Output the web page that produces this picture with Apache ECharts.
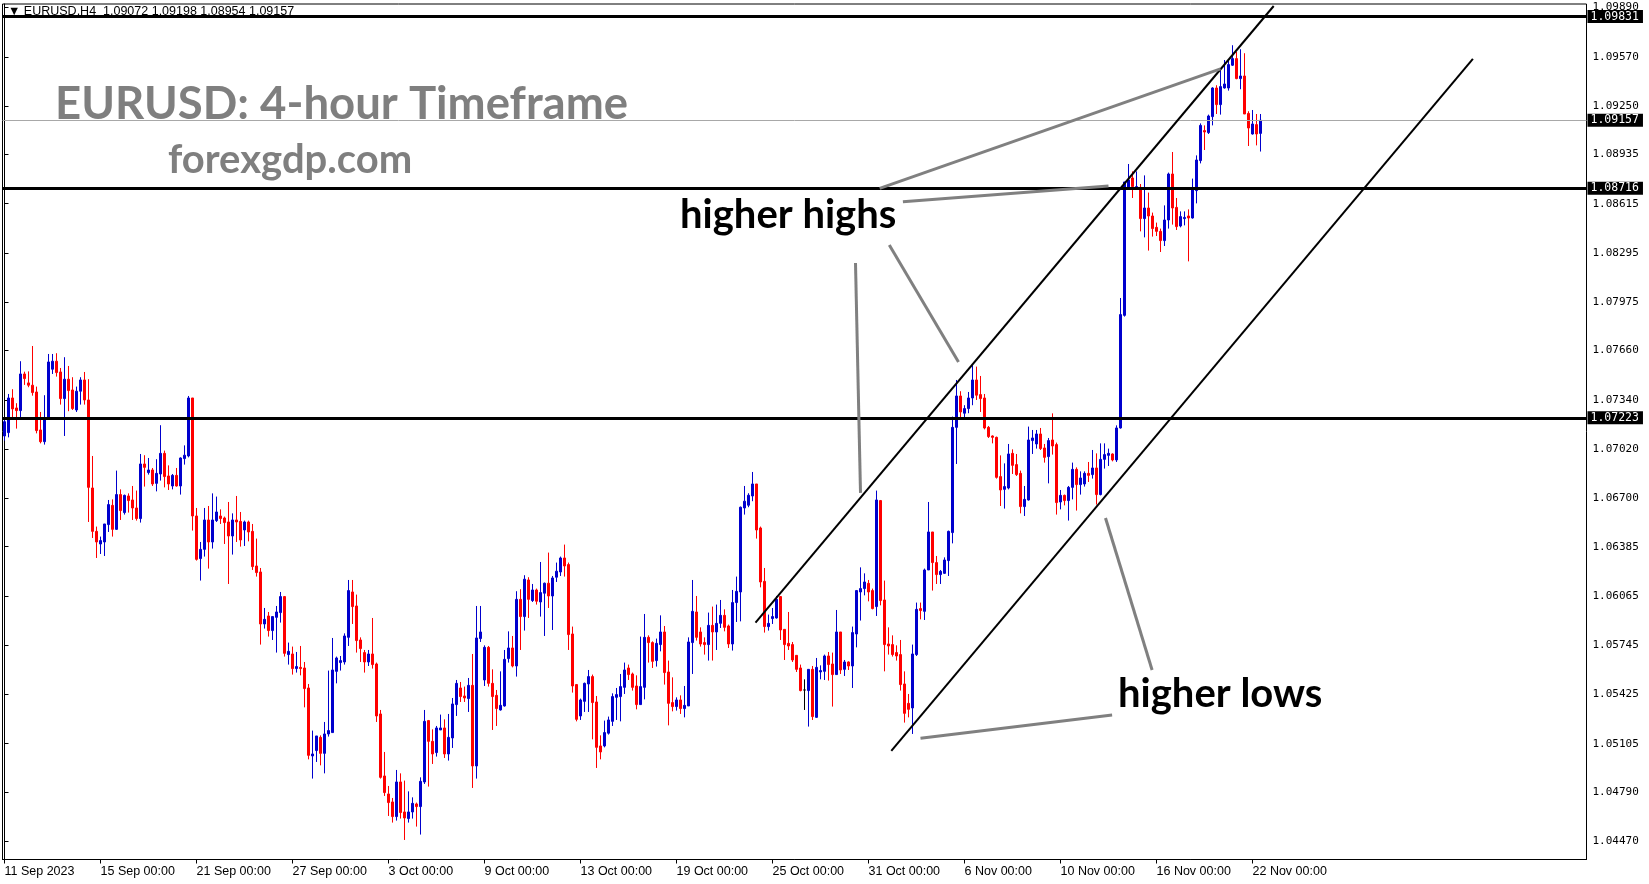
<!DOCTYPE html>
<html><head><meta charset="utf-8">
<script src="https://cdn.jsdelivr.net/npm/echarts@6/dist/echarts.min.js"></script>
<style>html,body{margin:0;padding:0;background:#fff}#chart{width:1649px;height:884px}</style>
</head><body><div id="chart"></div>
<script>
// ---- tick labels ----
const xTickLabels = ["11 Sep 2023","15 Sep 00:00","21 Sep 00:00","27 Sep 00:00","3 Oct 00:00","9 Oct 00:00","13 Oct 00:00","19 Oct 00:00","25 Oct 00:00","31 Oct 00:00","6 Nov 00:00","10 Nov 00:00","16 Nov 00:00","22 Nov 00:00"];
const barsPerLabel = 24;
const slotCount = 396;
const yTickValues = [1.09890,1.09570,1.09250,1.08935,1.08615,1.08295,1.07975,1.07660,1.07340,1.07020,1.06700,1.06385,1.06065,1.05745,1.05425,1.05105,1.04790,1.04470];

// ---- H4 candles (open, close, low, high) ----
const open = [1.07105,1.07127,1.07352,1.07287,1.07270,1.07508,1.07450,1.07435,1.07391,1.07144,1.07068,1.07226,1.07539,1.07591,1.07521,1.07348,1.07474,1.07404,1.07274,1.07396,1.07469,1.07339,1.06767,1.06485,1.06403,1.06416,1.06529,1.06654,1.06498,1.06724,1.06607,1.06715,1.06689,1.06637,1.06568,1.06923,1.06867,1.06884,1.06797,1.06858,1.06992,1.06845,1.06780,1.06849,1.06780,1.06958,1.06975,1.07352,1.06585,1.06308,1.06368,1.06559,1.06416,1.06555,1.06585,1.06572,1.06546,1.06455,1.06559,1.06550,1.06494,1.06546,1.06485,1.06260,1.06221,1.05883,1.05935,1.05840,1.05926,1.05957,1.06061,1.05684,1.05688,1.05593,1.05601,1.05597,1.05467,1.05025,1.05060,1.05146,1.05042,1.05168,1.05177,1.05575,1.05632,1.05636,1.05796,1.06091,1.06000,1.05779,1.05697,1.05636,1.05688,1.05623,1.05298,1.04895,1.04778,1.04726,1.04631,1.04856,1.04661,1.04618,1.04661,1.04713,1.04696,1.04856,1.05255,1.05120,1.05047,1.05194,1.05207,1.05038,1.05142,1.05359,1.05467,1.05415,1.05398,1.05484,1.04960,1.05788,1.05519,1.05731,1.05497,1.05419,1.05324,1.05350,1.05658,1.05727,1.05610,1.06043,1.05931,1.06169,1.06035,1.06104,1.06026,1.06083,1.06148,1.06065,1.06187,1.06221,1.06312,1.06269,1.05818,1.05489,1.05285,1.05380,1.05493,1.05541,1.05376,1.05090,1.05090,1.05173,1.05250,1.05406,1.05411,1.05471,1.05597,1.05558,1.05480,1.05359,1.05471,1.05796,1.05762,1.05645,1.05749,1.05831,1.05571,1.05372,1.05346,1.05389,1.05333,1.05350,1.05762,1.05961,1.05831,1.05762,1.05749,1.05874,1.05831,1.05887,1.05939,1.05870,1.05753,1.06022,1.06091,1.06637,1.06655,1.06715,1.06793,1.06507,1.06160,1.05866,1.05918,1.05922,1.06061,1.05848,1.05757,1.05749,1.05679,1.05597,1.05454,1.05450,1.05588,1.05276,1.05571,1.05575,1.05675,1.05623,1.05554,1.05831,1.05588,1.05636,1.05610,1.05818,1.06091,1.06113,1.06147,1.06100,1.05996,1.06685,1.06039,1.05753,1.05749,1.05697,1.05684,1.05493,1.05367,1.05337,1.05684,1.05983,1.05965,1.06234,1.06481,1.06282,1.06204,1.06212,1.06295,1.06477,1.07161,1.07365,1.07253,1.07283,1.07352,1.07469,1.07374,1.07352,1.07161,1.07105,1.07096,1.06841,1.06758,1.06767,1.06992,1.06919,1.06862,1.06646,1.06689,1.07075,1.07053,1.07118,1.07027,1.06971,1.07079,1.07049,1.06676,1.06719,1.06685,1.06771,1.06888,1.06789,1.06793,1.06862,1.06854,1.06897,1.06724,1.06953,1.06979,1.06988,1.06949,1.07157,1.07889,1.08717,1.08782,1.08708,1.08721,1.08518,1.08587,1.08535,1.08461,1.08435,1.08375,1.08509,1.08808,1.08591,1.08470,1.08518,1.08535,1.08522,1.08700,1.08895,1.09090,1.09077,1.09181,1.09367,1.09259,1.09367,1.09367,1.09515,1.09558,1.09428,1.09445,1.09202,1.09068,1.09129,1.09072];
const close = [1.07198,1.07352,1.07281,1.07270,1.07508,1.07478,1.07435,1.07387,1.07140,1.07068,1.07218,1.07586,1.07591,1.07517,1.07348,1.07474,1.07400,1.07283,1.07396,1.07469,1.07339,1.06771,1.06485,1.06416,1.06425,1.06533,1.06659,1.06498,1.06724,1.06620,1.06719,1.06685,1.06637,1.06568,1.06923,1.06901,1.06884,1.06793,1.06862,1.06992,1.06841,1.06793,1.06849,1.06780,1.06962,1.06980,1.07352,1.06585,1.06303,1.06368,1.06559,1.06416,1.06559,1.06611,1.06568,1.06542,1.06455,1.06559,1.06546,1.06429,1.06546,1.06481,1.06256,1.06217,1.05883,1.05913,1.05840,1.05931,1.05961,1.06061,1.05692,1.05705,1.05593,1.05606,1.05593,1.05463,1.05029,1.05038,1.05155,1.05042,1.05168,1.05190,1.05584,1.05662,1.05645,1.05805,1.06100,1.05996,1.05775,1.05723,1.05636,1.05688,1.05619,1.05285,1.04886,1.04787,1.04722,1.04631,1.04856,1.04657,1.04622,1.04661,1.04717,1.04696,1.04860,1.05250,1.05120,1.05038,1.05207,1.05207,1.05038,1.05146,1.05363,1.05497,1.05411,1.05402,1.05484,1.04960,1.05792,1.05831,1.05731,1.05497,1.05411,1.05333,1.05354,1.05653,1.05727,1.05610,1.06043,1.05931,1.06174,1.06043,1.06104,1.06031,1.06087,1.06148,1.06065,1.06182,1.06226,1.06312,1.06260,1.05814,1.05480,1.05263,1.05389,1.05497,1.05541,1.05372,1.05081,1.05051,1.05177,1.05259,1.05411,1.05424,1.05476,1.05584,1.05554,1.05471,1.05359,1.05476,1.05796,1.05762,1.05640,1.05757,1.05831,1.05567,1.05367,1.05346,1.05389,1.05333,1.05354,1.05766,1.05965,1.05796,1.05753,1.05749,1.05874,1.05831,1.05887,1.05939,1.05861,1.05753,1.06022,1.06095,1.06642,1.06681,1.06720,1.06793,1.06494,1.06156,1.05866,1.05887,1.05931,1.06043,1.05844,1.05749,1.05740,1.05649,1.05588,1.05450,1.05454,1.05588,1.05281,1.05601,1.05580,1.05675,1.05619,1.05554,1.05831,1.05584,1.05636,1.05610,1.05827,1.06100,1.06113,1.06156,1.06091,1.05983,1.06689,1.06035,1.05749,1.05740,1.05684,1.05675,1.05489,1.05302,1.05328,1.05688,1.05978,1.05970,1.06234,1.06481,1.06282,1.06204,1.06225,1.06299,1.06485,1.07161,1.07365,1.07261,1.07283,1.07352,1.07469,1.07370,1.07348,1.07157,1.07101,1.07096,1.06836,1.06754,1.06776,1.06988,1.06914,1.06854,1.06646,1.06693,1.07079,1.07092,1.07118,1.07023,1.06966,1.07075,1.07040,1.06672,1.06719,1.06685,1.06771,1.06888,1.06789,1.06832,1.06862,1.06849,1.06897,1.06724,1.06953,1.06984,1.06992,1.06949,1.07157,1.07894,1.08756,1.08769,1.08726,1.08726,1.08518,1.08587,1.08535,1.08453,1.08435,1.08375,1.08509,1.08808,1.08587,1.08466,1.08531,1.08526,1.08522,1.08704,1.08899,1.09124,1.09081,1.09185,1.09367,1.09259,1.09376,1.09393,1.09519,1.09558,1.09428,1.09445,1.09198,1.09107,1.09133,1.09068,1.09157];
const low = [1.07075,1.07096,1.07226,1.07153,1.07226,1.07437,1.07422,1.07367,1.07122,1.07057,1.07049,1.07226,1.07508,1.07491,1.07309,1.07105,1.07266,1.07274,1.07261,1.07309,1.07309,1.06546,1.06442,1.06312,1.06338,1.06325,1.06481,1.06451,1.06494,1.06559,1.06594,1.06607,1.06559,1.06555,1.06542,1.06776,1.06854,1.06780,1.06745,1.06815,1.06771,1.06754,1.06758,1.06776,1.06724,1.06919,1.06966,1.06490,1.06295,1.06165,1.06321,1.06243,1.06373,1.06546,1.06533,1.06403,1.06143,1.06334,1.06416,1.06386,1.06390,1.06420,1.06234,1.06191,1.05749,1.05853,1.05801,1.05779,1.05697,1.05892,1.05671,1.05619,1.05554,1.05567,1.05549,1.05341,1.05003,1.04878,1.04986,1.04964,1.04912,1.05151,1.05177,1.05497,1.05580,1.05619,1.05740,1.05883,1.05697,1.05636,1.05567,1.05610,1.05593,1.05246,1.04878,1.04765,1.04635,1.04592,1.04605,1.04618,1.04479,1.04592,1.04618,1.04566,1.04514,1.04843,1.04826,1.04973,1.05021,1.05194,1.05012,1.04995,1.05077,1.05285,1.05376,1.05376,1.05311,1.04817,1.04878,1.05766,1.05480,1.05476,1.05194,1.05220,1.05320,1.05346,1.05632,1.05601,1.05541,1.05714,1.05840,1.05922,1.06026,1.06009,1.05931,1.05805,1.05987,1.05844,1.06156,1.06195,1.06191,1.05714,1.05437,1.05250,1.05259,1.05311,1.05311,1.05133,1.04947,1.05003,1.05081,1.05164,1.05220,1.05259,1.05250,1.05428,1.05519,1.05450,1.05328,1.05359,1.05393,1.05632,1.05597,1.05606,1.05705,1.05489,1.05224,1.05315,1.05320,1.05298,1.05276,1.05350,1.05558,1.05775,1.05736,1.05684,1.05645,1.05645,1.05714,1.05857,1.05835,1.05727,1.05710,1.05896,1.05900,1.06594,1.06642,1.06681,1.06438,1.06121,1.05827,1.05840,1.05883,1.05918,1.05779,1.05649,1.05714,1.05636,1.05571,1.05445,1.05324,1.05216,1.05259,1.05272,1.05523,1.05519,1.05515,1.05346,1.05554,1.05558,1.05545,1.05584,1.05467,1.05731,1.05905,1.06069,1.06030,1.05978,1.05935,1.06004,1.05575,1.05684,1.05671,1.05645,1.05450,1.05242,1.05276,1.05168,1.05675,1.05913,1.05909,1.06234,1.06100,1.06143,1.06143,1.06208,1.06195,1.06407,1.06923,1.07227,1.07227,1.07253,1.07305,1.07339,1.07261,1.07148,1.07092,1.07057,1.06828,1.06650,1.06633,1.06758,1.06858,1.06845,1.06602,1.06585,1.06685,1.06988,1.07023,1.07014,1.06932,1.06797,1.06984,1.06594,1.06628,1.06654,1.06555,1.06693,1.06620,1.06724,1.06776,1.06806,1.06828,1.06659,1.06719,1.06893,1.06910,1.06940,1.06936,1.07153,1.07881,1.08704,1.08652,1.08708,1.08435,1.08396,1.08310,1.08401,1.08405,1.08301,1.08340,1.08453,1.08479,1.08444,1.08461,1.08474,1.08240,1.08518,1.08617,1.08877,1.08964,1.09068,1.09124,1.09198,1.09194,1.09363,1.09350,1.09510,1.09424,1.09359,1.09198,1.08990,1.09064,1.08994,1.08954];
const high = [1.07226,1.07378,1.07409,1.07318,1.07591,1.07523,1.07525,1.07690,1.07426,1.07261,1.07370,1.07638,1.07638,1.07643,1.07547,1.07617,1.07560,1.07487,1.07426,1.07487,1.07521,1.07474,1.06975,1.06516,1.06451,1.06533,1.06689,1.06693,1.06880,1.06758,1.06724,1.06732,1.06780,1.06750,1.06988,1.06980,1.06962,1.06897,1.06954,1.07175,1.07010,1.06914,1.06858,1.06897,1.06966,1.07044,1.07365,1.07352,1.06637,1.06416,1.06637,1.06650,1.06732,1.06711,1.06628,1.06581,1.06676,1.06602,1.06715,1.06611,1.06555,1.06555,1.06533,1.06438,1.06247,1.05987,1.05961,1.05931,1.06000,1.06091,1.06065,1.05762,1.05736,1.05701,1.05740,1.05636,1.05493,1.05190,1.05155,1.05159,1.05246,1.05580,1.05792,1.05671,1.05675,1.05822,1.06169,1.06169,1.06074,1.05796,1.05714,1.05714,1.05922,1.05632,1.05324,1.05051,1.04830,1.04752,1.04934,1.04912,1.04865,1.04795,1.04756,1.04722,1.04886,1.05324,1.05259,1.05198,1.05220,1.05294,1.05263,1.05298,1.05402,1.05519,1.05506,1.05476,1.05532,1.05688,1.06000,1.06000,1.05744,1.05740,1.05588,1.05454,1.05575,1.05714,1.05835,1.05805,1.06096,1.06109,1.06200,1.06187,1.06143,1.06113,1.06286,1.06152,1.06347,1.06195,1.06282,1.06321,1.06399,1.06282,1.05866,1.05493,1.05398,1.05502,1.05584,1.05554,1.05415,1.05159,1.05255,1.05281,1.05432,1.05467,1.05558,1.05632,1.05619,1.05567,1.05549,1.05801,1.05948,1.05809,1.05770,1.05788,1.05939,1.05870,1.05645,1.05536,1.05406,1.05419,1.05480,1.05796,1.06169,1.06065,1.05861,1.05796,1.05957,1.05996,1.06009,1.06039,1.05978,1.05879,1.06104,1.06191,1.06646,1.06780,1.06733,1.06871,1.06793,1.06516,1.06247,1.05944,1.05987,1.06065,1.06065,1.05848,1.05961,1.05766,1.05679,1.05619,1.05523,1.05588,1.05610,1.05662,1.05614,1.05684,1.05701,1.05697,1.05974,1.05831,1.05649,1.05640,1.05866,1.06104,1.06251,1.06212,1.06169,1.06113,1.06750,1.06689,1.06165,1.05861,1.05809,1.05744,1.05779,1.05575,1.05428,1.05749,1.06022,1.06022,1.06243,1.06676,1.06481,1.06325,1.06234,1.06316,1.06490,1.07231,1.07469,1.07396,1.07305,1.07391,1.07565,1.07556,1.07495,1.07378,1.07170,1.07109,1.07101,1.06979,1.06927,1.07053,1.07018,1.06988,1.06880,1.06780,1.07166,1.07144,1.07144,1.07157,1.07053,1.07092,1.07252,1.07062,1.06754,1.06724,1.06780,1.06932,1.06901,1.06875,1.06875,1.06936,1.07014,1.06992,1.07057,1.07057,1.07023,1.06992,1.07174,1.08002,1.08756,1.08873,1.08825,1.08825,1.08743,1.08799,1.08687,1.08557,1.08492,1.08453,1.08604,1.08817,1.08951,1.08652,1.08565,1.08565,1.08578,1.08778,1.08929,1.09137,1.09124,1.09194,1.09372,1.09385,1.09497,1.09549,1.09545,1.09645,1.09601,1.09619,1.09593,1.09216,1.09224,1.09198,1.09198];

// ---- drawn objects (price levels & trend lines, in [bar index, price]) ----
const levelPrices = [1.09831, 1.08716, 1.07223];
const bidPrice = 1.09157;
const channelLines = [
  [[187.75, 1.05892], [317.3, 1.09900]],
  [[221.7, 1.05058], [367.1, 1.09556]]
];
const pointerLines = [
  [[218.8, 1.08715], [304.0, 1.09491]],
  [[224.6, 1.08627], [276.0, 1.08730]],
  [[221.2, 1.08347], [238.5, 1.07586]],
  [[212.75, 1.08230], [214.0, 1.06735]],
  [[286.9, 1.05584], [275.25, 1.06572]],
  [[276.9, 1.05292], [229.0, 1.05140]]
];
const headerText = '\u25BC EURUSD,H4  1.09072 1.09198 1.08954 1.09157';

const categories = Array.from({length: slotCount}, (_, i) => String(i));
const candleData = open.map((o, i) => [o, close[i], low[i], high[i]]);
const showTick = (idx) => idx % barsPerLabel === 0 && idx / barsPerLabel < xTickLabels.length;

const chart = echarts.init(document.getElementById('chart'), null, {renderer: 'canvas'});
chart.setOption({
  animation: false,
  backgroundColor: '#ffffff',
  grid: {left: 2.5, right: 62.5, top: 4, bottom: 24.5, show: true, borderColor: '#000', borderWidth: 1, backgroundColor: '#fff', containLabel: false},
  xAxis: [{
    type: 'category', data: categories, boundaryGap: true,
    axisLine: {show: true, lineStyle: {color: '#000', width: 1}},
    axisTick: {show: true, alignWithLabel: true, interval: showTick, length: 4, lineStyle: {color: '#000'}},
    axisLabel: {interval: showTick, formatter: (v, idx) => showTick(idx) ? xTickLabels[idx / barsPerLabel] : '',
      align: 'left', margin: 6, color: '#000', fontFamily: 'Liberation Sans', fontSize: 12.5},
    splitLine: {show: false}
  }, {
    type: 'value', min: -0.5, max: slotCount - 0.5, show: false
  }],
  yAxis: [{
    type: 'value', position: 'right', min: 1.04352, max: 1.09913, scale: true,
    axisLine: {show: true, lineStyle: {color: '#000'}},
    axisTick: {show: true, customValues: yTickValues, length: 4, lineStyle: {color: '#000'}},
    axisLabel: {customValues: yTickValues, formatter: (v) => v.toFixed(5), color: '#000',
      fontFamily: 'DejaVu Sans Mono', fontSize: 11, margin: 6},
    splitLine: {show: false}
  }],
  series: [{
    type: 'candlestick', xAxisIndex: 0, yAxisIndex: 0, data: candleData,
    barWidth: 2,
    itemStyle: {color: '#0000CD', color0: '#FF0000', borderColor: '#0000CD', borderColor0: '#FF0000', borderColorDoji: '#000000', borderWidth: 1},
    emphasis: {disabled: true},
    markLine: {
      silent: true, symbol: ['none', 'none'], animation: false, precision: 5,
      label: {show: true, position: 'end', distance: 1, formatter: (p) => Number(p.value).toFixed(5),
        backgroundColor: '#000', color: '#fff', fontFamily: 'DejaVu Sans Mono', fontSize: 11.5, padding: [1, 4, 0, 3]},
      data: levelPrices.map(v => ({yAxis: v, lineStyle: {color: '#000', width: 3, type: 'solid'}}))
        .concat([{yAxis: bidPrice, lineStyle: {color: '#a8a8a8', width: 1, type: 'solid'}}])
    }
  }, {
    type: 'lines', coordinateSystem: 'cartesian2d', xAxisIndex: 1, yAxisIndex: 0, silent: true,
    lineStyle: {color: '#000', width: 2, opacity: 1},
    data: channelLines.map(c => ({coords: c})), z: 5
  }, {
    type: 'lines', coordinateSystem: 'cartesian2d', xAxisIndex: 1, yAxisIndex: 0, silent: true,
    lineStyle: {color: '#808080', width: 3, opacity: 1},
    data: pointerLines.map(c => ({coords: c})), z: 5
  }],
  graphic: [
    {type: 'text', x: 8, y: 12, z: 100, style: {text: headerText, font: '12.5px "Liberation Sans"', fill: '#000', align: 'left', verticalAlign: 'middle'}},
    {type: 'text', x: 55, y: 104, z: 100, style: {text: 'EURUSD: 4-hour Timeframe', font: 'bold 45.5px Lato', fill: '#7f7f7f', align: 'left', verticalAlign: 'middle'}},
    {type: 'text', x: 168, y: 160, z: 100, style: {text: 'forexgdp.com', font: 'bold 40px Lato', fill: '#7f7f7f', align: 'left', verticalAlign: 'middle'}},
    {type: 'text', x: 680, y: 215, z: 100, style: {text: 'higher highs', font: 'bold 40px Lato', fill: '#000', align: 'left', verticalAlign: 'middle'}},
    {type: 'text', x: 1118, y: 694, z: 100, style: {text: 'higher lows', font: 'bold 40px Lato', fill: '#000', align: 'left', verticalAlign: 'middle'}}
  ]
});
</script>
</body></html>
